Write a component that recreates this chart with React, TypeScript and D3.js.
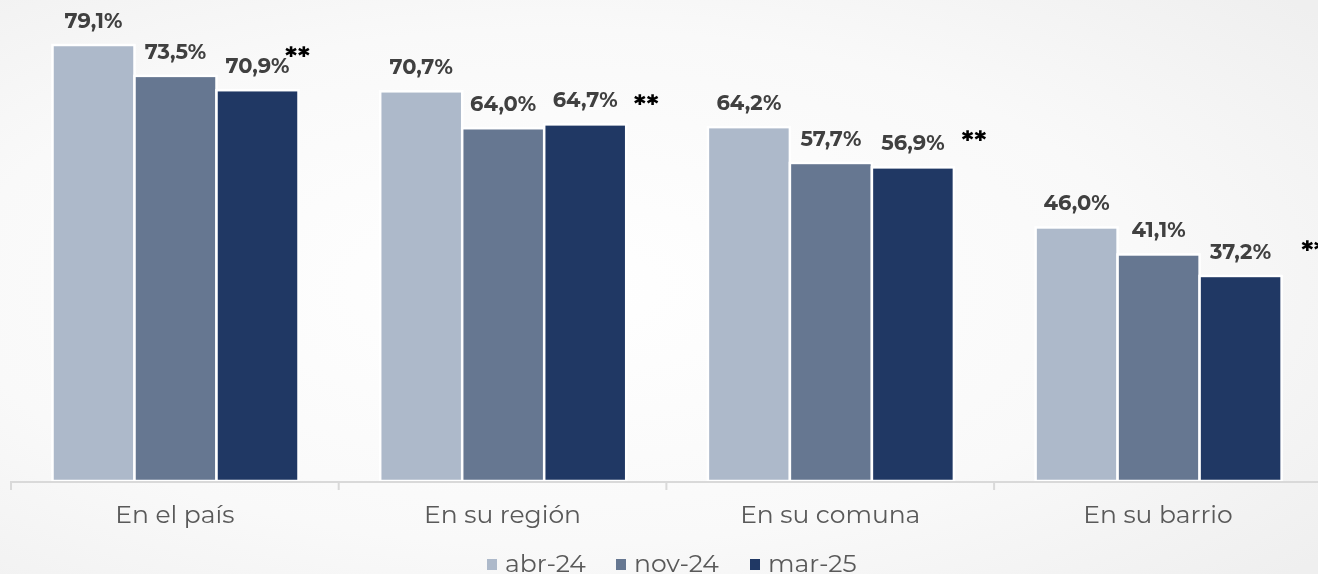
import React from "react";
import * as d3 from "d3";

const categories = ["En el país", "En su región", "En su comuna", "En su barrio"];
const seriesNames = ["abr-24", "nov-24", "mar-25"];
const abr24 = [79.1, 70.7, 64.2, 46.0];
const nov24 = [73.5, 64.0, 57.7, 41.1];
const mar25 = [70.9, 64.7, 56.9, 37.2];
const annotations = ["**", "**", "**", "**"];

const colors = ["#adb9ca", "#667791", "#203864"];
// annotation offsets (layout only)
const annDx = [-1, 20, 20, 32];
const annDy = [-38, -24, -31, -30];

const W = 1318;
const H = 574;
const baseY = 481;
const FONT = "Montserrat, Inter, 'Open Sans', sans-serif";

export default function App() {
  const series = [abr24, nov24, mar25];
  const x0 = d3.scaleBand<string>().domain(categories).range([11, 11 + 4 * 327.7]).padding(0);
  const x1 = d3.scaleBand<string>().domain(seriesNames).range([41.5, 287.5]).padding(0);
  const y = d3.scaleLinear().domain([0, 79.1]).range([baseY, 45]);
  const fmt = (v: number) => v.toFixed(1).replace(".", ",") + "%";

  const legendX = [487, 616, 750];

  return (
    <div style={{ position: "fixed", left: 0, top: 0, width: W, height: H }}>
      <svg width={W} height={H} style={{ display: "block" }}>
        <defs>
          <radialGradient id="bg" cx="42%" cy="50%" r="75%">
            <stop offset="0%" stopColor="#ffffff" />
            <stop offset="60%" stopColor="#f9f9f9" />
            <stop offset="100%" stopColor="#efefef" />
          </radialGradient>
        </defs>
        <rect x={0} y={0} width={W} height={H} fill="url(#bg)" />
        {categories.map((c, ci) => (
          <g key={c}>
            {series.map((s, si) => {
              const bx = (x0(c) as number) + (x1(seriesNames[si]) as number);
              const by = y(s[ci]);
              return (
                <g key={si}>
                  <rect
                    x={bx}
                    y={by}
                    width={x1.bandwidth()}
                    height={baseY - by}
                    fill={colors[si]}
                    stroke="#ffffff"
                    strokeWidth={2.5}
                  />
                  <text
                    x={bx + x1.bandwidth() / 2}
                    y={by - 17}
                    textAnchor="middle"
                    fontFamily={FONT}
                    fontWeight={700}
                    fontSize={21}
                    fill="#404040"
                  >
                    {fmt(s[ci])}
                  </text>
                </g>
              );
            })}
            <text
              x={(x0(c) as number) + 287.5 + annDx[ci]}
              y={y(mar25[ci]) + annDy[ci] + 15}
              textAnchor="middle"
              fontFamily={FONT}
              fontWeight={700}
              fontSize={28}
              fill="#000000"
            >
              {annotations[ci]}
            </text>
            <text
              x={(x0(c) as number) + x0.bandwidth() / 2}
              y={523}
              textAnchor="middle"
              fontFamily={FONT}
              fontSize={25}
              fill="#595959"
            >
              {c}
            </text>
          </g>
        ))}
        <line x1={11} x2={W} y1={baseY + 1} y2={baseY + 1} stroke="#d9d9d9" strokeWidth={2} />
        {[0, 1, 2, 3].map((i) => (
          <line
            key={i}
            x1={11 + i * 327.7}
            x2={11 + i * 327.7}
            y1={baseY}
            y2={baseY + 9}
            stroke="#d9d9d9"
            strokeWidth={2}
          />
        ))}
        {seriesNames.map((n, i) => (
          <g key={n}>
            <rect x={legendX[i]} y={559} width={10} height={11} fill={colors[i]} />
            <text x={legendX[i] + 18} y={572} fontFamily={FONT} fontSize={25} fill="#595959">
              {n}
            </text>
          </g>
        ))}
      </svg>
    </div>
  );
}
